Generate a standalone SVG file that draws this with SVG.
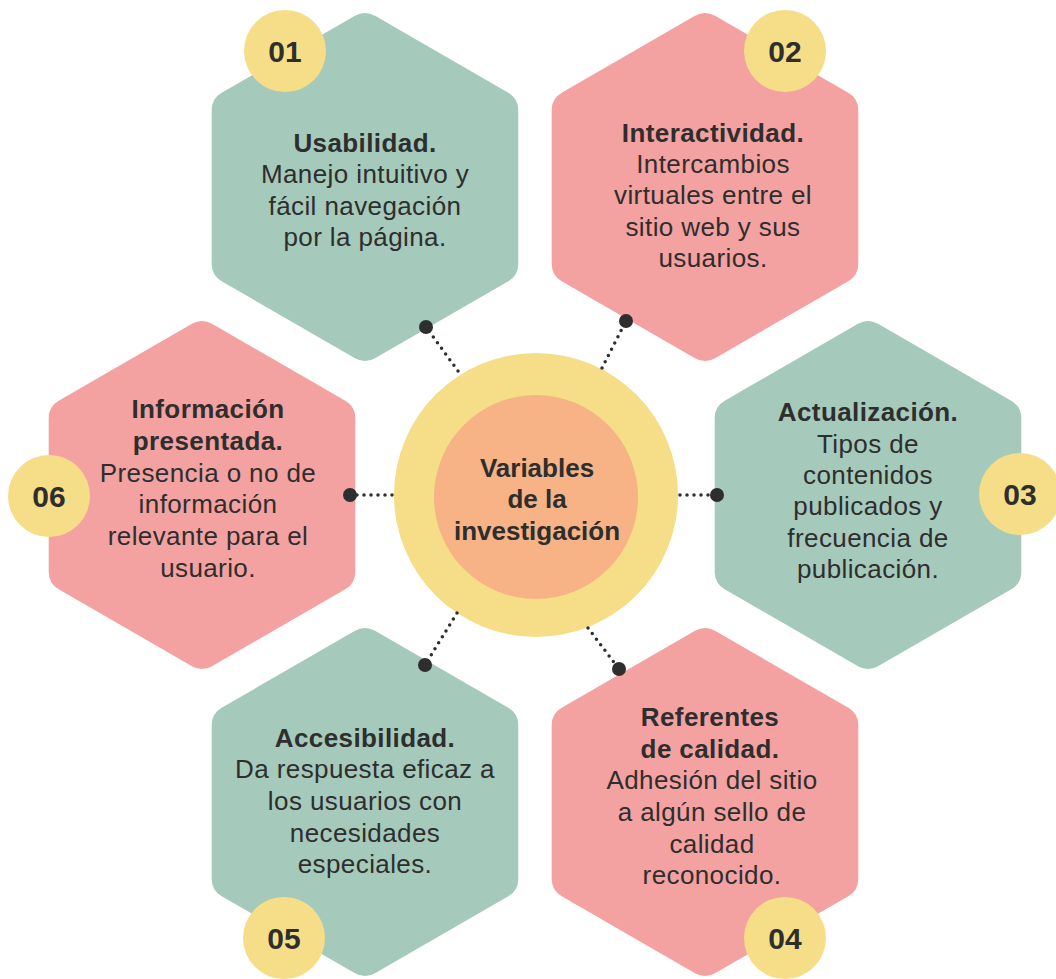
<svg xmlns="http://www.w3.org/2000/svg" width="1056" height="979" viewBox="0 0 1056 979">
<style>
.green{fill:#a5c9bb}.pink{fill:#f4a1a1}.yel{fill:#f6de89}.org{fill:#f7b285}
text{font-family:"Liberation Sans",Arial,sans-serif;fill:#2e2e2e;text-anchor:middle}
.t{font-size:26px;letter-spacing:0.4px}.b{font-weight:bold}
.num{font-size:30px;font-weight:bold}
.ctr{font-size:26px;font-weight:bold}
.dl{stroke:#2e2e2e;stroke-width:3.5;stroke-linecap:round;stroke-dasharray:0 7;fill:none}
.dot{fill:#2e2e2e}
</style>
<defs>
<path id="hex" d="M -10,-171.23 A 20 20 0 0 1 10,-171.23 L 143.29,-94.27 A 20 20 0 0 1 153.29,-76.95 L 153.29,76.95 A 20 20 0 0 1 143.29,94.27 L 10,171.23 A 20 20 0 0 1 -10,171.23 L -143.29,94.27 A 20 20 0 0 1 -153.29,76.95 L -153.29,-76.95 A 20 20 0 0 1 -143.29,-94.27 Z"/>
</defs>
<rect width="1056" height="979" fill="#ffffff"/>

<g id="node01">
<use href="#hex" class="green" x="365" y="187"/>
<circle class="yel" cx="285" cy="51" r="41"/>
<text class="num" x="285" y="62">01</text>
<text class="t" x="365"><tspan class="b" x="365" y="152">Usabilidad.</tspan><tspan x="365" y="183">Manejo intuitivo y</tspan><tspan x="365" y="215">fácil navegación</tspan><tspan x="365" y="246">por la página.</tspan></text>
</g>

<g id="node02">
<use href="#hex" class="pink" x="705" y="187"/>
<circle class="yel" cx="785" cy="51" r="41"/>
<text class="num" x="785" y="62">02</text>
<text class="t"><tspan class="b" x="713" y="142">Interactividad.</tspan><tspan x="713" y="173">Intercambios</tspan><tspan x="713" y="204">virtuales entre el</tspan><tspan x="713" y="236">sitio web y sus</tspan><tspan x="713" y="267">usuarios.</tspan></text>
</g>

<g id="node03">
<use href="#hex" class="green" x="868" y="495"/>
<circle class="yel" cx="1020" cy="494" r="41"/>
<text class="num" x="1020" y="505">03</text>
<text class="t"><tspan class="b" x="868" y="421">Actualización.</tspan><tspan x="868" y="453">Tipos de</tspan><tspan x="868" y="484">contenidos</tspan><tspan x="868" y="515">publicados y</tspan><tspan x="868" y="547">frecuencia de</tspan><tspan x="868" y="578">publicación.</tspan></text>
</g>

<g id="node04">
<use href="#hex" class="pink" x="705" y="802"/>
<circle class="yel" cx="785" cy="938" r="41"/>
<text class="num" x="785" y="949">04</text>
<text class="t"><tspan class="b" x="710" y="726">Referentes</tspan><tspan class="b" x="710" y="758">de calidad.</tspan><tspan x="712" y="789">Adhesión del sitio</tspan><tspan x="712" y="821">a algún sello de</tspan><tspan x="712" y="853">calidad</tspan><tspan x="712" y="884">reconocido.</tspan></text>
</g>

<g id="node05">
<use href="#hex" class="green" x="365" y="802"/>
<circle class="yel" cx="284" cy="938" r="41"/>
<text class="num" x="284" y="949">05</text>
<text class="t"><tspan class="b" x="365" y="747">Accesibilidad.</tspan><tspan x="365" y="778">Da respuesta eficaz a</tspan><tspan x="365" y="810">los usuarios con</tspan><tspan x="365" y="842">necesidades</tspan><tspan x="365" y="873">especiales.</tspan></text>
</g>

<g id="node06">
<use href="#hex" class="pink" x="202" y="495"/>
<circle class="yel" cx="49" cy="496" r="41"/>
<text class="num" x="49" y="507">06</text>
<text class="t"><tspan class="b" x="208" y="418">Información</tspan><tspan class="b" x="208" y="450">presentada.</tspan><tspan x="208" y="482">Presencia o no de</tspan><tspan x="208" y="513">información</tspan><tspan x="208" y="545">relevante para el</tspan><tspan x="208" y="577">usuario.</tspan></text>
</g>

<g id="center">
<circle class="yel" cx="536" cy="495" r="142"/>
<circle class="org" cx="536" cy="497" r="102"/>
<text class="ctr"><tspan x="537" y="477">Variables</tspan><tspan x="537" y="508">de la</tspan><tspan x="537" y="540">investigación</tspan></text>
</g>

<g id="connectors">
<path class="dl" d="M 458,371 L 426,327"/>
<circle class="dot" cx="426" cy="327" r="7"/>
<path class="dl" d="M 602,368 L 626,321"/>
<circle class="dot" cx="626" cy="321" r="7"/>
<path class="dl" d="M 680,495 L 717,495"/>
<circle class="dot" cx="717" cy="495" r="7"/>
<path class="dl" d="M 588,628 L 619,669"/>
<circle class="dot" cx="619" cy="669" r="7"/>
<path class="dl" d="M 457,613 L 425,665"/>
<circle class="dot" cx="425" cy="665" r="7"/>
<path class="dl" d="M 392,495 L 350,495"/>
<circle class="dot" cx="350" cy="495" r="7"/>
</g>
</svg>
